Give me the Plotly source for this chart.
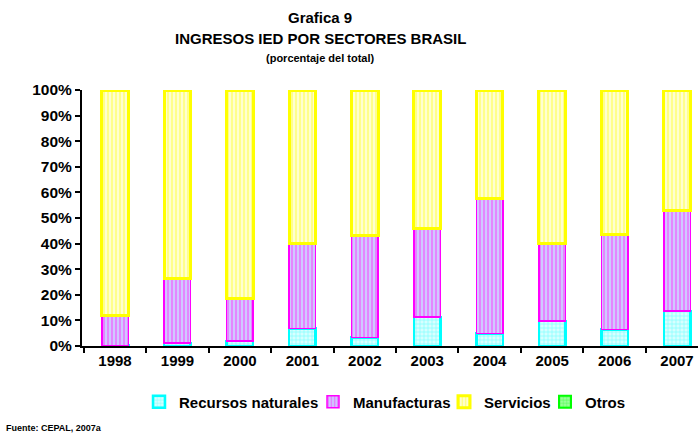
import plotly.graph_objects as go

years = ["1998", "1999", "2000", "2001", "2002", "2003", "2004", "2005", "2006", "2007"]
recursos = [0.2, 1.2, 2.0, 6.8, 3.3, 11.4, 4.9, 9.8, 6.5, 13.6]
manufacturas = [11.8, 25.0, 16.6, 33.1, 39.8, 34.6, 52.9, 30.1, 37.2, 39.3]
servicios = [88.0, 73.8, 81.4, 60.1, 56.9, 54.0, 42.2, 60.1, 56.3, 47.1]
otros = [0, 0, 0, 0, 0, 0, 0, 0, 0, 0]

FONT = "Liberation Sans, Arial, sans-serif"

fig = go.Figure()
fig.add_trace(go.Bar(
    x=years, y=recursos, name="Recursos naturales", legendwidth=129,
    marker=dict(color="#ccffff", line=dict(color="#00ffff", width=2.5),
                pattern=dict(shape="+", fgcolor="#22ffff", bgcolor="#d8ffff", size=4, solidity=0.3)),
))
fig.add_trace(go.Bar(
    x=years, y=manufacturas, name="Manufacturas", legendwidth=86,
    marker=dict(color="#ccccff", line=dict(color="#ff00ff", width=1.5),
                pattern=dict(shape="|", fgcolor="#ff22ff", bgcolor="#d0c8ff", size=4, solidity=0.4)),
))
fig.add_trace(go.Bar(
    x=years, y=servicios, name="Servicios", legendwidth=56,
    marker=dict(color="#ffffcc", line=dict(color="#ffff00", width=3),
                pattern=dict(shape="|", fgcolor="#ffff22", bgcolor="#ffffd0", size=4, solidity=0.4)),
))
fig.add_trace(go.Bar(
    x=years, y=[v if v else None for v in otros], name="Otros",
    marker=dict(color="#99ff99", line=dict(color="#00ff00", width=2),
                pattern=dict(shape="+", fgcolor="#00ff00", bgcolor="#99ff99", size=4, solidity=0.3)),
))

H = 433; W = 698
T = 90; B = 87; L = 82
PH = H - T - B
PW = W - L

fig.update_layout(
    barmode="stack",
    bargap=0.575,
    width=W, height=H,
    margin=dict(l=L, r=0, t=T, b=B),
    paper_bgcolor="white", plot_bgcolor="white",
    font=dict(family=FONT, size=14, color="black"),
    showlegend=True,
    legend=dict(orientation="h", x=(385 - L) / PW, xanchor="center", y=(H - B - 402) / PH, yanchor="middle",
                font=dict(family=FONT, size=15, color="black", weight="bold"),
                itemwidth=30, traceorder="normal", itemclick=False, itemdoubleclick=False),
    xaxis=dict(range=[-0.529, 9.336], showline=True, linecolor="black", linewidth=2,
               ticks="outside", tickson="boundaries", ticklen=5, tickwidth=2, tickcolor="black",
               tickfont=dict(family=FONT, size=15, weight="bold"), showgrid=False, fixedrange=True),
    yaxis=dict(range=[0, 100], dtick=10, ticksuffix="%", showline=True, linecolor="black", linewidth=2,
               ticks="outside", ticklen=5, tickwidth=2, tickcolor="black",
               tickfont=dict(family=FONT, size=15.5, weight="bold"), showgrid=False, zeroline=False,
               fixedrange=True),
)

titles = [
    ("<b>Grafica 9</b>", 320, 17, "center", 15),
    ("<b>INGRESOS IED POR SECTORES BRASIL</b>", 320, 38, "center", 15),
    ("<b>(porcentaje del total)</b>", 320, 58, "center", 11),
    ("<b>Fuente: CEPAL, 2007a</b>", 4, 428, "left", 9),
]
for text, px, py, anchor, size in titles:
    fig.add_annotation(text=text, x=(px - L) / PW, y=(H - B - py) / PH, xref="paper", yref="paper",
                       xanchor=anchor, yanchor="middle", showarrow=False,
                       font=dict(family=FONT, size=size, color="black"))

fig.write_html("out.html", config={"displayModeBar": False},
               post_script="document.body.style.margin='0';document.body.style.overflow='hidden';")
